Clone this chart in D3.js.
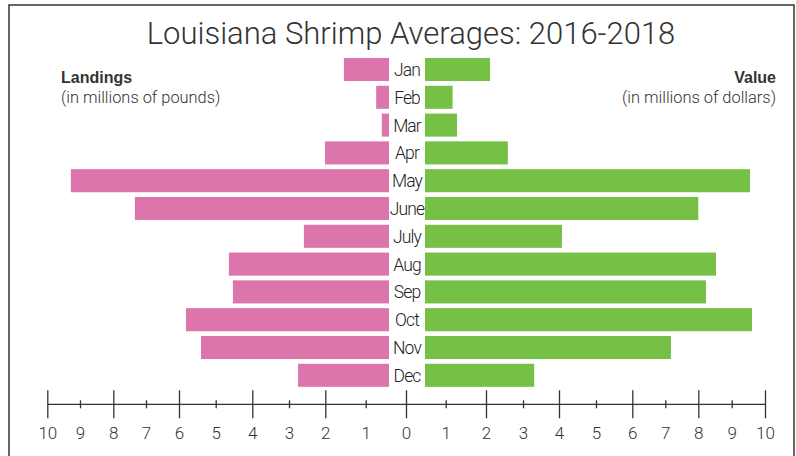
<!DOCTYPE html>
<html>
<head>
<meta charset="utf-8">
<script src="https://cdnjs.cloudflare.com/ajax/libs/d3/7.8.5/d3.min.js"></script>
<style>
  body { margin: 0; background: #fff; }
  text { font-family: Roboto, "Liberation Sans", sans-serif; fill: #333; }
</style>
</head>
<body>
<script>
var W = 796, H = 456;

// data
var months = ["Jan","Feb","Mar","Apr","May","June","July","Aug","Sep","Oct","Nov","Dec"];
var landings = [1.54, 0.74, 0.60, 2.01, 9.28, 7.34, 2.59, 4.64, 4.53, 5.81, 5.40, 2.75]; // millions of pounds
var values   = [2.11, 1.17, 1.28, 2.59, 9.55, 8.00, 4.08, 8.53, 8.23, 9.61, 7.17, 3.31]; // millions of dollars
var tickVals = [0,1,2,3,4,5,6,7,8,9,10];

var pink = "#dd75ad", green = "#75c045";

var svg = d3.select("body")
            .append("svg")
            .attr("width", W)
            .attr("height", H);

// frame
svg.append("rect")
   .attr("x", 9).attr("y", 5)
   .attr("width", 785).attr("height", 480)
   .attr("fill", "none")
   .attr("stroke", "#333")
   .attr("stroke-width", 1.5);

// the printed axis is not evenly spaced, so use piecewise scales that follow it
var xl = d3.scaleLinear()
           .domain(tickVals)
           .range([406, 365.7, 325.3, 289, 252.3, 215.7, 179, 146, 113.3, 80, 47.3]);
var xr = d3.scaleLinear()
           .domain(tickVals)
           .range([406, 445.7, 486, 523, 559, 596, 632.3, 665.3, 698.3, 731.7, 765]);

var y = d3.scaleBand()
          .domain(months)
          .range([55.6, 389.2])
          .paddingInner(0.17)
          .paddingOuter(0.085);

var leftEdge = 389, rightEdge = 425;

// title
svg.append("text")
   .attr("x", 411).attr("y", 44)
   .attr("text-anchor", "middle")
   .style("font-size", "31px")
   .style("font-weight", 300)
   .text("Louisiana Shrimp Averages: 2016-2018");

// side labels
svg.append("text")
   .attr("x", 61).attr("y", 83)
   .style("font-family", "'Liberation Sans', Arial, sans-serif")
   .style("font-size", "16px").style("font-weight", 700)
   .text("Landings");
svg.append("text")
   .attr("x", 61).attr("y", 103)
   .style("font-size", "16.4px").style("font-weight", 300)
   .text("(in millions of pounds)");
svg.append("text")
   .attr("x", 776).attr("y", 83)
   .attr("text-anchor", "end")
   .style("font-family", "'Liberation Sans', Arial, sans-serif")
   .style("font-size", "16px").style("font-weight", 700)
   .text("Value");
svg.append("text")
   .attr("x", 776).attr("y", 103)
   .attr("text-anchor", "end")
   .style("font-size", "16.4px").style("font-weight", 300)
   .text("(in millions of dollars)");

// landings bars (left)
svg.selectAll("rect.landing")
   .data(landings)
   .enter()
   .append("rect")
   .attr("class", "landing")
   .attr("x", function(d) { return xl(d); })
   .attr("y", function(d, i) { return y(months[i]); })
   .attr("width", function(d) { return leftEdge - xl(d); })
   .attr("height", y.bandwidth())
   .attr("fill", pink);

// value bars (right)
svg.selectAll("rect.value")
   .data(values)
   .enter()
   .append("rect")
   .attr("class", "value")
   .attr("x", rightEdge)
   .attr("y", function(d, i) { return y(months[i]); })
   .attr("width", function(d) { return xr(d) - rightEdge; })
   .attr("height", y.bandwidth())
   .attr("fill", green);

// month labels
svg.selectAll("text.month")
   .data(months)
   .enter()
   .append("text")
   .attr("class", "month")
   .attr("x", 407)
   .attr("y", function(d) { return y(d) + y.bandwidth() / 2 + 6.5; })
   .attr("text-anchor", "middle")
   .style("font-size", "17.5px")
   .style("font-weight", 300)
   .style("letter-spacing", "-0.9px")
   .style("fill", "#222")
   .text(function(d) { return d; });

// bottom axis
var axisY = 404.3;
svg.append("line")
   .attr("x1", xl(10)).attr("x2", xr(10))
   .attr("y1", axisY).attr("y2", axisY)
   .attr("stroke", "#333").attr("stroke-width", 1.3);

function styleAxis(g) {
  g.select(".domain").remove();
  g.selectAll(".tick line")
   .attr("stroke", "#333")
   .attr("stroke-width", 1.3)
   .attr("y1", function(d) { return d % 2 === 0 ? -14 : -4; })
   .attr("y2", function(d) { return d % 2 === 0 ? 14 : 4; });
  g.selectAll(".tick text")
   .attr("y", 35)
   .attr("dy", null)
   .style("font-family", "Roboto, 'Liberation Sans', sans-serif")
   .style("font-size", "17px")
   .style("font-weight", 300)
   .attr("fill", "#333");
}

svg.append("g")
   .attr("transform", "translate(0," + axisY + ")")
   .call(d3.axisBottom(xl).tickValues(tickVals).tickFormat(d3.format("d")))
   .call(styleAxis);

svg.append("g")
   .attr("transform", "translate(0," + axisY + ")")
   .call(d3.axisBottom(xr).tickValues(tickVals.slice(1)).tickFormat(d3.format("d")))
   .call(styleAxis);
</script>
</body>
</html>
